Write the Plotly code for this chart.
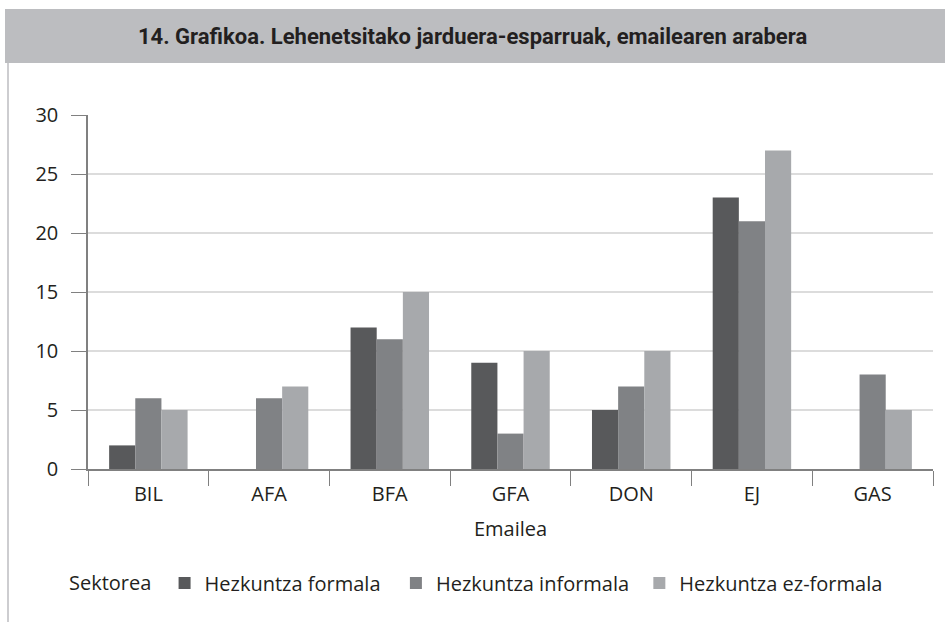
import plotly.graph_objects as go

# data
emaileak = ["BIL", "AFA", "BFA", "GFA", "DON", "EJ", "GAS"]
formala = [2, 0, 12, 9, 5, 23, 0]
informala = [6, 6, 11, 3, 7, 21, 8]
ez_formala = [5, 7, 15, 10, 10, 27, 5]

# trailing nbsp only widen the legend gaps a bit
series = [
    ("Hezkuntza formala\u00a0\u00a0", formala, "#58595b"),
    ("Hezkuntza informala\u00a0", informala, "#808285"),
    ("Hezkuntza ez-formala", ez_formala, "#a7a9ac"),
]

FONT = "Open Sans, Lato, sans-serif"
TXT = "#231f20"

# plot area in pixels: x 88..933, y 115..469
PW, PH = 845, 354


def px_x(x):
    return (x - 88) / PW


def px_y(y):
    return (469 - y) / PH


fig = go.Figure()
for name, vals, col in series:
    fig.add_trace(go.Bar(x=emaileak, y=vals, name=name, marker_color=col, marker_line_width=0))

fig.update_layout(
    width=945,
    height=625,
    margin=dict(l=88, r=12, t=115, b=156),
    paper_bgcolor="white",
    plot_bgcolor="white",
    barmode="group",
    bargap=0.35,
    bargroupgap=0,
    font=dict(family=FONT, size=20, color=TXT),
    showlegend=True,
    legend=dict(
        orientation="h",
        x=px_x(67),
        xanchor="left",
        y=px_y(583),
        yanchor="middle",
        title=dict(text="Sektorea ", font=dict(size=20)),
        font=dict(size=20),
        itemwidth=30,
    ),
    shapes=[
        dict(type="rect", xref="paper", yref="paper", x0=px_x(5), x1=px_x(945),
             y0=px_y(9), y1=px_y(63), fillcolor="#bcbdc0", line_width=0, layer="below"),
        dict(type="line", xref="paper", yref="paper", x0=px_x(8), x1=px_x(8),
             y0=px_y(63), y1=px_y(622), line=dict(color="#bcbdc0", width=1.5)),
    ],
    annotations=[
        dict(text="<b>14. Grafikoa. Lehenetsitako jarduera-esparruak, emailearen arabera</b>",
             xref="paper", yref="paper", x=px_x(472), y=px_y(37),
             xanchor="center", yanchor="middle", showarrow=False,
             font=dict(family="Liberation Sans Narrow, Roboto, sans-serif", size=22, color=TXT)),
    ],
)

fig.update_xaxes(
    type="category",
    tickson="boundaries",
    ticks="outside",
    ticklen=15,
    tickcolor="#808080",
    showline=True,
    linecolor="#808080",
    linewidth=1.5,
    showgrid=False,
    tickfont=dict(size=20),
    ticklabelstandoff=6,
    title=dict(text="Emailea", standoff=16, font=dict(size=20)),
)
fig.update_yaxes(
    range=[0, 30],
    dtick=5,
    ticks="outside",
    ticklen=15,
    tickcolor="#808080",
    showline=True,
    linecolor="#808080",
    linewidth=1.5,
    gridcolor="#dcdcdc",
    gridwidth=1.5,
    zeroline=False,
    tickfont=dict(size=20),
    ticklabelstandoff=9,
)

# browser default body margin would push the figure 8px down/right
fig.write_html(
    "out.html",
    config={"displayModeBar": False},
    post_script="document.body.style.margin='0';",
)
